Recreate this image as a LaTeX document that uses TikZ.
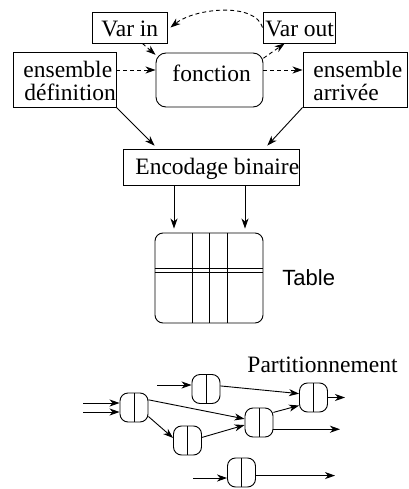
\documentclass[tikz,border=0pt]{standalone}
\usepackage{fontspec}
\setmainfont{Liberation Serif}
\newfontfamily\tablefont{Liberation Sans}
\usetikzlibrary{arrows.meta,calc}

\tikzset{
  tip/.style={-{Stealth[length=10pt,width=7pt,inset=3pt]}},
  dashline/.style={dash pattern=on 4pt off 3pt},
  box/.style={draw, rectangle, inner sep=0pt},
  rbox/.style={draw, rectangle, rounded corners=10pt, inner sep=0pt},
  lbl/.style={font=\fontsize{23.5}{26}\selectfont, inner sep=0pt, anchor=base west},
  part/.style={draw, rounded corners=8pt, minimum width=28pt, minimum height=29pt,
    inner sep=0pt,
    path picture={\draw (path picture bounding box.north) -- (path picture bounding box.south);}},
}

\begin{document}
\begin{tikzpicture}[x=1pt, y=-1pt, line width=0.9pt]
\useasboundingbox (0,0) rectangle (408,489);

% --- top part: the function and its sets
\node[box, minimum width=75pt, minimum height=31pt] (vin) at (129.5,27.5) {};
\node[lbl] (vint) at (101,37) {Var in};
\node[box, minimum width=72pt, minimum height=31pt] (vout) at (299,27.5) {};
\node[lbl] (voutt) at (265,37) {Var out};

\node[box, minimum width=103pt, minimum height=55pt] (ed) at (64.5,79.5) {};
\node[lbl] (ed1) at (23,78) {ensemble};
\node[lbl] (ed2) at (24,101) {définition};

\node[rbox, minimum width=107pt, minimum height=54pt] (fn) at (209.5,80) {};
\node[lbl] (fnt) at (172,82) {fonction};

\node[box, minimum width=104pt, minimum height=55pt] (ea) at (355,79.5) {};
\node[lbl] (ea1) at (313,78) {ensemble};
\node[lbl] (ea2) at (313,101) {arrivée};

\draw[tip, dashline] (ed.east |- 0,70) -- (fn.west |- 0,70);
\draw[tip, dashline] (fn.east |- 0,70) -- (ea.west |- 0,70);
\draw[tip, dashline] (vin.-51) -- (fn.155);
\draw[tip, dashline] (fn.22) -- (vout.-132);
\draw[tip, dashline] (vout.west) .. controls (255,2) and (195,8) .. ([xshift=3pt]vin.east);

% --- binary encoding
\node[box, minimum width=176pt, minimum height=36pt] (enc) at (211,167) {};
\node[lbl] (enct) at (135,175) {Encodage binaire};

\draw[tip, shorten >=4pt] (ed.south east) -- (enc.161);
\draw[tip, shorten >=4pt] (ea.south west) -- (enc.19);

% --- table
\node[rbox, rounded corners=8pt, minimum width=108pt, minimum height=90pt] (tab) at (209,278) {};
\node[lbl, font=\tablefont\fontsize{22}{25}\selectfont] (tabt) at (282,285) {Table};
\coordinate (c1) at (174,0);
\coordinate (c2) at (245,0);
\draw[tip, shorten >=4pt] (enc.south -| c1) -- (tab.north -| c1);
\draw[tip, shorten >=4pt] (enc.south -| c2) -- (tab.north -| c2);
\foreach \vx in {192,209,227}
  \draw (tab.north -| \vx,0) -- (tab.south -| \vx,0);
\draw (tab.west |- 0,268) -- (tab.east |- 0,268);
\draw (tab.west |- 0,272) -- (tab.east |- 0,272);

% --- partitioning
\node[lbl] (pt) at (247,372) {Partitionnement};
\node[part] (A) at (134,407.5) {};
\node[part] (B) at (206,389) {};
\node[part] (C) at (187.5,440.5) {};
\node[part] (D) at (259,422.5) {};
\node[part] (E) at (313.5,397.5) {};
\node[part] (F) at (241.5,472.5) {};

\coordinate (inA1) at (83,403);
\coordinate (inA2) at (83,412);
\coordinate (inB) at (157,385);
\coordinate (inF) at (193,478);
\coordinate (outD) at (340,0);
\coordinate (outE) at (345,0);
\coordinate (outF) at (335,0);

\draw[tip] (inA1) -- (inA1 -| A.west);
\draw[tip] (inA2) -- (inA2 -| A.west);
\draw[tip] (inB) -- (inB -| B.west);
\draw[tip] (inF) -- (inF -| F.west);
\draw[tip] (B.12) -- (E.165);
\draw[tip] (A.28) -- (D.166);
\draw[tip] (A.-32) -- (C.170);
\draw[tip] (C.12) -- (D.190);
\draw[tip] (D.35) -- (E.-151);
\draw[tip] (D.-25) -- (D.-25 -| outD);
\draw[tip] (E.east) -- (E.east -| outE);
\draw[tip] (F.-12) -- (F.-12 -| outF);
\end{tikzpicture}
\end{document}
